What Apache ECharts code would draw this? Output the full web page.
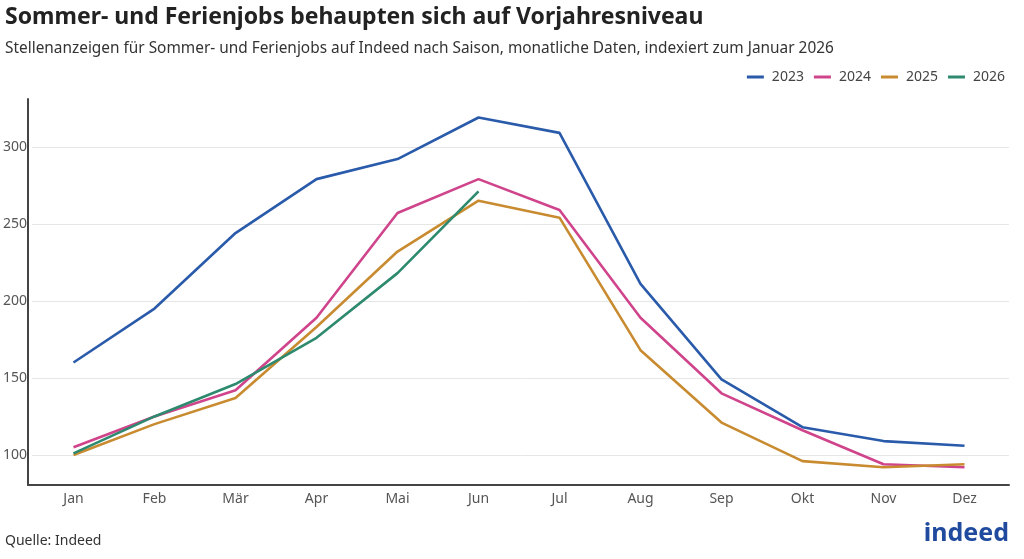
<!DOCTYPE html>
<html>
<head>
<meta charset="utf-8">
<script src="https://cdn.jsdelivr.net/npm/echarts@6/dist/echarts.min.js"></script>
<style>
  html, body { margin: 0; padding: 0; background: #fff; }
  #chart { width: 1024px; height: 559px; }
</style>
</head>
<body>
<div id="chart"></div>
<script>
// Monate
var months = ['Jan', 'Feb', 'Mär', 'Apr', 'Mai', 'Jun', 'Jul', 'Aug', 'Sep', 'Okt', 'Nov', 'Dez']
// Index, Januar 2026 = 100
var y2023 = [160, 195, 244, 279, 292, 319, 309, 211, 149, 118, 109, 106]
var y2024 = [105, 125, 142, 189, 257, 279, 259, 189, 140, 116, 94, 92]
var y2025 = [100, 120, 137, 183, 232, 265, 254, 168, 121, 96, 92, 94]
var y2026 = [101, 125, 146, 176, 218, 271]
var yTicks = [100, 150, 200, 250, 300]

var font = 'Noto Sans'
var colors = ['#2a5bab', '#cf448b', '#c98b30', '#2e8a6e']

var chart = echarts.init(document.getElementById('chart'))

function line (name, data, color) {
  return {
    name: name,
    type: 'line',
    data: data,
    xAxisIndex: 0,
    yAxisIndex: 0,
    symbol: 'none',
    lineStyle: { color: color, width: 2.6 },
    itemStyle: { color: color },
    z: 3
  }
}

var option = {
  backgroundColor: '#fff',
  animation: false,
  textStyle: { fontFamily: font },
  title: [
    {
      text: 'Sommer- und Ferienjobs behaupten sich auf Vorjahresniveau',
      left: 0, top: 1,
      textStyle: { fontFamily: font, fontSize: 23, fontWeight: 'bold', color: '#222' }
    },
    {
      text: 'Stellenanzeigen für Sommer- und Ferienjobs auf Indeed nach Saison, monatliche Daten, indexiert zum Januar 2026',
      left: 0, top: 36,
      textStyle: { fontFamily: font, fontSize: 15.4, fontWeight: 'normal', color: '#333' }
    },
    {
      text: 'Quelle: Indeed',
      left: 0, top: 529,
      textStyle: { fontFamily: font, fontSize: 14, fontWeight: 'normal', color: '#333' }
    }
  ],
  legend: {
    right: 14, top: 65,
    itemWidth: 17, itemHeight: 3, itemGap: 10,
    icon: 'rect',
    textStyle: { fontFamily: font, fontSize: 14, color: '#444', padding: [0, 0, 0, 3] },
    data: ['2023', '2024', '2025', '2026']
  },
  grid: [
    // data grid
    { left: 33, right: 19, top: 99, bottom: 74 },
    // y labels + gridlines 100..300
    { left: 28, right: 15, top: 147, height: 308 },
    // axis frame lines
    { left: 28, right: 15, top: 99, bottom: 74 }
  ],
  xAxis: [
    {
      gridIndex: 0, type: 'category', data: months, boundaryGap: true,
      axisLine: { show: false }, axisTick: { show: false },
      axisLabel: { fontFamily: font, fontSize: 14, color: '#555', margin: 7 }
    },
    { gridIndex: 1, type: 'value', show: false },
    {
      gridIndex: 2, type: 'value', min: 0, max: 1,
      axisLine: { show: true, lineStyle: { color: '#444', width: 2 } },
      axisTick: { show: false }, axisLabel: { show: false }, splitLine: { show: false }
    }
  ],
  yAxis: [
    { gridIndex: 0, type: 'value', min: 80.5, max: 331, show: false },
    {
      gridIndex: 1, type: 'value', min: yTicks[0], max: yTicks[yTicks.length - 1], interval: 50,
      axisLine: { show: false }, axisTick: { show: false },
      axisLabel: { fontFamily: font, fontSize: 14, color: '#555', margin: 5 },
      splitLine: { show: true, lineStyle: { color: '#e6e6e6', width: 1 } }
    },
    {
      gridIndex: 2, type: 'value', min: 0, max: 1,
      axisLine: { show: true, lineStyle: { color: '#444', width: 2 } },
      axisTick: { show: false }, axisLabel: { show: false }, splitLine: { show: false }
    }
  ],
  graphic: [
    {
      type: 'text', right: 15, bottom: 13,
      style: { text: 'indeed', font: 'bold 25px "Noto Sans"', fill: '#1f4a9e' }
    }
  ],
  series: [
    line('2023', y2023, colors[0]),
    line('2024', y2024, colors[1]),
    line('2025', y2025, colors[2]),
    line('2026', y2026, colors[3])
  ]
}

chart.setOption(option)
</script>
</body>
</html>
